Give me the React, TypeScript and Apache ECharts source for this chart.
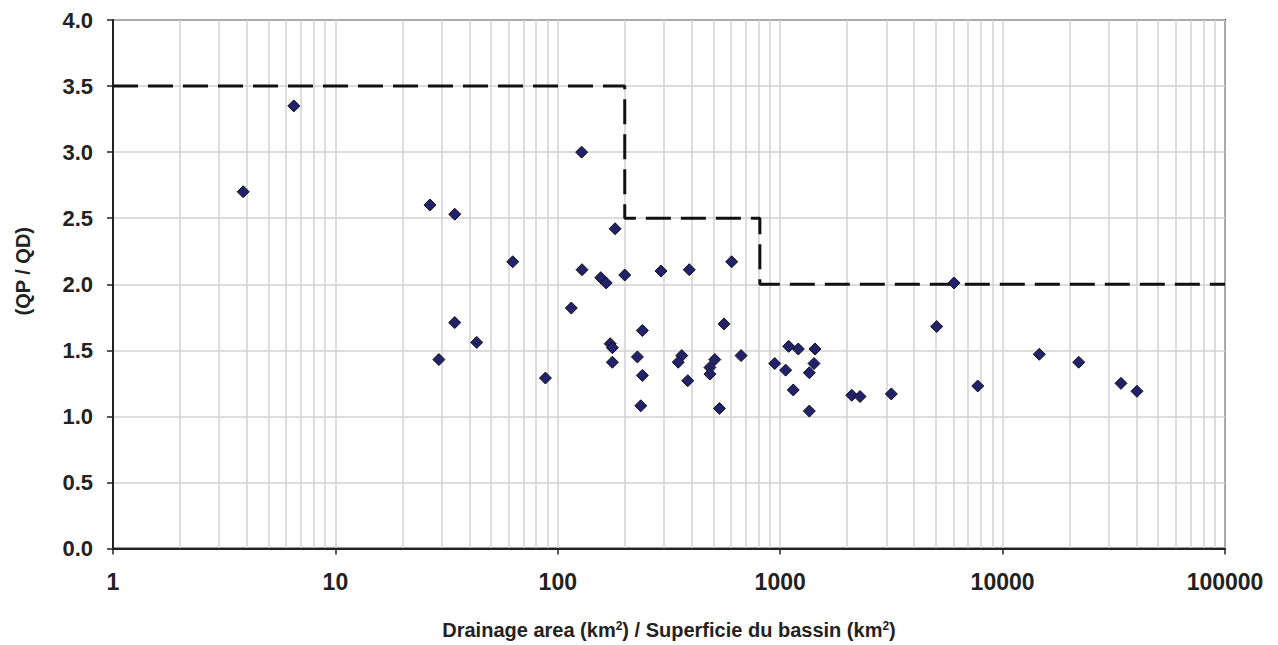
import React, { useEffect, useRef } from "react";
import * as echarts from "echarts";

// Drainage area (km²) and peak/daily flow ratio QP/QD
const areaKm2: number[] = [
  3.85, 6.5, 26.6, 34.4, 62.7, 128, 181, 128.5, 156, 165, 200, 291, 390, 605,
  115, 34.4, 43.2, 29.2, 88, 172, 176, 176, 240, 228, 240, 236, 361, 348, 384,
  559, 508, 483, 483, 533, 667, 945, 1058, 1092, 1206, 1145, 1434, 1419, 1352,
  1352, 2097, 2286, 3160, 5053, 6047, 7730, 14620, 21990, 34060, 40190,
];
const ratioQPQD: number[] = [
  2.70, 3.35, 2.60, 2.53, 2.17, 3.00, 2.42, 2.11, 2.05, 2.01, 2.07, 2.10, 2.11, 2.17,
  1.82, 1.71, 1.56, 1.43, 1.29, 1.55, 1.52, 1.41, 1.65, 1.45, 1.31, 1.08, 1.46, 1.41, 1.27,
  1.70, 1.43, 1.37, 1.32, 1.06, 1.46, 1.40, 1.35, 1.53, 1.51, 1.20, 1.51, 1.40, 1.33,
  1.04, 1.16, 1.15, 1.17, 1.68, 2.01, 1.23, 1.47, 1.41, 1.25, 1.19,
];

// Envelope (dashed step line)
const envelopeX: number[] = [1, 200, 200, 810, 810, 100000];
const envelopeY: number[] = [3.5, 3.5, 2.5, 2.5, 2.0, 2.0];

const yTickLabels: string[] = ["0.0", "0.5", "1.0", "1.5", "2.0", "2.5", "3.0", "3.5", "4.0"];
const decades: number[] = [1, 10, 100, 1000, 10000];
const minorMultipliers: number[] = [2, 3, 4, 5, 6, 7, 8, 9];

const FONT = "'Liberation Sans', Arial, Helvetica, sans-serif";

export default function App() {
  const ref = useRef<HTMLDivElement>(null);

  useEffect(() => {
    document.body.style.margin = "0";
    if (!ref.current) return;
    const chart = echarts.init(ref.current, null, { renderer: "svg" });

    const minorLines: any[] = [];
    decades.forEach((d) => minorMultipliers.forEach((m) => minorLines.push({ xAxis: d * m })));

    const points = areaKm2.map((a, i) => [a, ratioQPQD[i]]);
    const envelope = envelopeX.map((x, i) => [x, envelopeY[i]]);

    chart.setOption({
      animation: false,
      backgroundColor: "#ffffff",
      grid: {
        left: 113,
        right: 53,
        top: 20,
        bottom: 95,
        show: true,
        borderColor: "#333333",
        borderWidth: 2,
        backgroundColor: "transparent",
      },
      xAxis: {
        type: "log",
        logBase: 10,
        min: 1,
        max: 100000,
        name: "Drainage area (km{sup|2}) / Superficie du bassin (km{sup|2})",
        nameLocation: "middle",
        nameGap: 71,
        nameTextStyle: {
          fontFamily: FONT,
          fontWeight: "bold",
          fontSize: 20,
          color: "#222",
          rich: {
            sup: { fontFamily: FONT, fontWeight: "bold", fontSize: 12, color: "#222", padding: [0, 0, 9, 0] },
          },
        },
        axisLine: { show: true, onZero: false, lineStyle: { color: "#222", width: 2 } },
        axisTick: { show: true, length: 6, inside: false, lineStyle: { color: "#222", width: 1.5 } },
        axisLabel: {
          margin: 22,
          fontFamily: FONT,
          fontWeight: "bold",
          fontSize: 23,
          color: "#222",
          formatter: (v: number) => String(Math.round(v)),
        },
        splitLine: { show: true, lineStyle: { color: "#d2d2d2", width: 1.5 } },
      },
      yAxis: {
        type: "value",
        min: 0,
        max: 4,
        interval: 0.5,
        name: "(QP / QD)",
        nameLocation: "middle",
        nameGap: 80,
        nameRotate: 90,
        nameTextStyle: { fontFamily: FONT, fontWeight: "bold", fontSize: 20, color: "#222", padding: [0, 0, 0, 26] },
        axisLine: { show: true, lineStyle: { color: "#222", width: 2 } },
        axisTick: { show: true, length: 6, inside: false, lineStyle: { color: "#222", width: 1.5 } },
        axisLabel: {
          margin: 20,
          fontFamily: FONT,
          fontWeight: "bold",
          fontSize: 22,
          color: "#222",
          formatter: (v: number) => yTickLabels[Math.round(v / 0.5)] ?? v.toFixed(1),
        },
        splitLine: { show: true, lineStyle: { color: "#d2d2d2", width: 1.5 } },
      },
      series: [
        {
          type: "line",
          data: [],
          z: 0,
          silent: true,
          markLine: {
            z: 0,
            silent: true,
            symbol: ["none", "none"],
            label: { show: false },
            lineStyle: { color: "#d2d2d2", width: 1.5, type: "solid" },
            data: minorLines,
          },
        },
        {
          type: "line",
          data: envelope,
          z: 2,
          showSymbol: false,
          symbol: "none",
          silent: true,
          lineStyle: { color: "#111111", width: 3, type: [25, 10], cap: "butt" },
        },
        {
          type: "scatter",
          data: points,
          z: 3,
          symbol: "diamond",
          symbolSize: 12,
          itemStyle: { color: "#22226c", borderColor: "#111111", borderWidth: 1, opacity: 1 },
        },
      ],
    });

    return () => chart.dispose();
  }, []);

  return <div ref={ref} style={{ width: 1278, height: 645 }} />;
}
